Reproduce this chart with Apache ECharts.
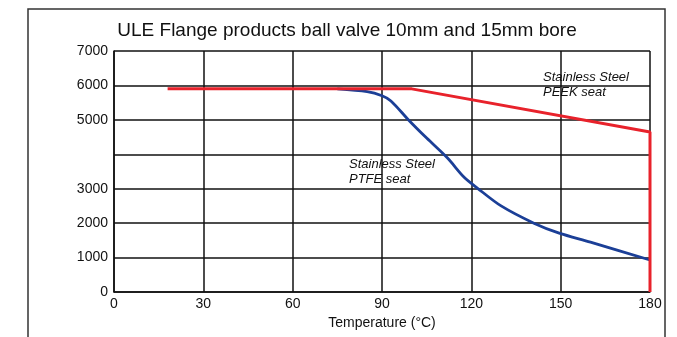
<!DOCTYPE html>
<html>
<head>
<meta charset="utf-8">
<script src="https://cdn.jsdelivr.net/npm/echarts@6/dist/echarts.min.js"></script>
<style>
  html, body { margin: 0; padding: 0; background: #fff; }
  #chart { width: 677px; height: 337px; }
</style>
</head>
<body>
<div id="chart"></div>
<script>
// pressure rating curves
var xTicks = [0, 30, 60, 90, 120, 150, 180];
var yTicks = [0, 1000, 2000, 3000, 5000, 6000, 7000]; // 4000 has no label
var peekTemp = [18, 100, 180, 180];
var peekVal = [5900, 5900, 4650, 0];
var ptfeTemp = [75, 85, 90, 93, 99, 105, 112, 117.5, 122, 130, 141, 149.5, 160, 180];
var ptfeVal = [5900, 5820, 5700, 5550, 4990, 4470, 3890, 3340, 3020, 2500, 2000, 1710, 1450, 930];

var font = "'Liberation Sans', Arial, sans-serif";

function pairs(xs, ys) {
  return xs.map(function (x, i) { return [x, ys[i]]; });
}

var myChart = echarts.init(document.getElementById("chart"));
var option = {
  animation: false,
  grid: { left: 114, right: 27, top: 51, bottom: 45 },
  xAxis: {
    type: "value",
    min: 0, max: 180, interval: 30,
    name: "Temperature (°C)",
    nameLocation: "middle",
    nameGap: 24,
    nameTextStyle: { color: "#111", fontSize: 14, fontFamily: font },
    axisLine: { lineStyle: { color: "#111", width: 1.5 } },
    axisTick: { show: false },
    axisLabel: {
      color: "#111", fontSize: 14, fontFamily: font, margin: 5,
      formatter: function (v) { return xTicks.indexOf(v) >= 0 ? String(v) : ""; }
    },
    splitLine: { show: true, lineStyle: { color: "#111", width: 1.5 } }
  },
  yAxis: {
    type: "value",
    min: 0, max: 7000, interval: 1000,
    axisLine: { show: true, lineStyle: { color: "#111", width: 1.5 } },
    axisTick: { show: false },
    axisLabel: {
      color: "#111", fontSize: 14, fontFamily: font, margin: 6,
      formatter: function (v) { return yTicks.indexOf(v) >= 0 ? String(v) : ""; }
    },
    splitLine: { show: true, lineStyle: { color: "#111", width: 1.5 } }
  },
  graphic: [
    {
      type: "rect", z: -1,
      shape: { x: 28, y: 9, width: 637, height: 340 },
      style: { fill: "none", stroke: "#333", lineWidth: 1.5 }
    },
    {
      type: "text", x: 347, y: 21,
      style: { text: "ULE Flange products ball valve 10mm and 15mm bore", fontSize: 19, fontFamily: font, fill: "#111", textAlign: "center" }
    },
    {
      type: "text", x: 349, y: 157,
      style: { text: "Stainless Steel\nPTFE seat", fontSize: 13, fontStyle: "italic", fontFamily: font, fill: "#111", lineHeight: 15 }
    },
    {
      type: "text", x: 543, y: 70,
      style: { text: "Stainless Steel\nPEEK seat", fontSize: 13, fontStyle: "italic", fontFamily: font, fill: "#111", lineHeight: 15 }
    }
  ],
  series: [
    {
      name: "PEEK seat",
      type: "line",
      data: pairs(peekTemp, peekVal),
      symbol: "none",
      lineStyle: { color: "#e8222b", width: 3 },
      z: 3
    },
    {
      name: "PTFE seat",
      type: "line",
      smooth: 0.3,
      data: pairs(ptfeTemp, ptfeVal),
      symbol: "none",
      lineStyle: { color: "#1b3f97", width: 2.8 },
      z: 2
    }
  ]
};
myChart.setOption(option);
</script>
</body>
</html>
